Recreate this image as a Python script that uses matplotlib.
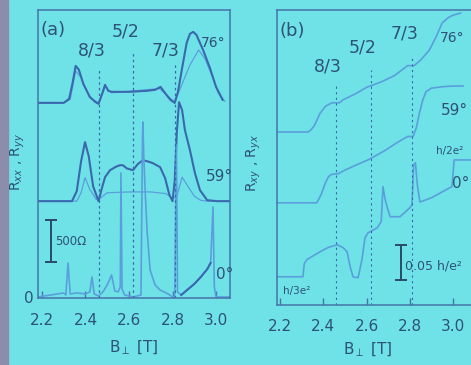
import matplotlib.pyplot as plt
from matplotlib.patches import Rectangle

# ---- panel (a): Rxx / Ryy in ohm, traces offset by tilt angle ----
b_76 = [2.182, 2.30, 2.325, 2.34, 2.355, 2.37, 2.39, 2.42, 2.445, 2.46, 2.475, 2.49, 2.505, 2.52,
        2.60, 2.68, 2.72, 2.745, 2.765, 2.79, 2.81, 2.825, 2.845, 2.865, 2.88, 2.895, 2.91, 2.94,
        2.97, 3.0, 3.03]
rxx_76 = [0, 0, 48, 226, 440, 393, 226, 71, 12, -12, 95, 214, 143, 131,
          131, 143, 155, 190, 119, 36, 0, 131, 428, 714, 821, 845, 809, 631,
          428, 190, 36]
b_76_yy = [2.182, 2.30, 2.33, 2.355, 2.38, 2.42, 2.46, 2.49, 2.52, 2.74, 2.81, 2.84, 2.88, 2.92,
           2.95, 2.98, 3.01, 3.04]
ryy_76 = [0, 0, 40, 380, 300, 60, 0, 190, 120, 170, 10, 200, 450, 630, 520, 330, 120, 20]

b_59 = [2.182, 2.338, 2.36, 2.38, 2.398, 2.415, 2.435, 2.46, 2.475, 2.49, 2.513, 2.54, 2.559,
        2.572, 2.59, 2.618, 2.64, 2.664, 2.69, 2.71, 2.743, 2.766, 2.785, 2.80, 2.81, 2.82, 2.83,
        2.844, 2.857, 2.88, 2.903, 2.926, 2.959, 3.005, 3.064]
rxx_59 = [0, 0, 119, 476, 702, 536, 179, 0, 150, 286, 369, 410, 428,
          428, 390, 369, 440, 488, 470, 452, 405, 274, 80, 0, 238, 833, 1178,
          1083, 845, 607, 333, 131, 12, 0, 0]
b_59_yy = [2.182, 2.36, 2.38, 2.398, 2.42, 2.45, 2.47, 2.50, 2.60, 2.70, 2.77, 2.80, 2.82, 2.844,
           2.87, 2.90, 2.93, 2.96, 3.064]
ryy_59 = [0, 0, 100, 280, 140, 20, 40, 100, 110, 110, 90, 30, 60, 285, 180, 60, 10, 0, 0]

b_0 = [2.182, 2.30, 2.31, 2.32, 2.33, 2.36, 2.40, 2.42, 2.43, 2.44, 2.46, 2.48, 2.50, 2.52,
       2.535, 2.55, 2.56, 2.563, 2.568, 2.58, 2.62, 2.655, 2.662, 2.664, 2.668, 2.674, 2.683,
       2.697, 2.72, 2.743, 2.78, 2.80, 2.81, 2.818, 2.823, 2.84, 2.867, 2.90, 2.93, 2.96, 2.975,
       2.986, 2.992, 3.0, 3.064]
rxx_0 = [0, 48, 24, 405, 36, 48, 36, 60, 238, 36, 12, 60, 143, 262,
         71, 60, 119, 1476, 95, 24, 0, 24, 1900, 2083, 1666, 1273, 797,
         321, 143, 83, 36, 0, 12, 1809, 60, 24, 83, 155, 238, 333, 405,
         1071, 119, 0, 0]

offset_a = {76: 2310, 59: 1140, 0: 0}
scale_a = 500  # ohm

# ---- panel (b): Rxy / Ryx in units of h/e^2 ----
b_h76 = [2.186, 2.33, 2.345, 2.36, 2.385, 2.41, 2.44, 2.475, 2.49, 2.55, 2.60, 2.67, 2.73, 2.79,
         2.82, 2.85, 2.89, 2.92, 2.95, 2.98, 3.0, 3.035]
rxy_76 = [0.3333, 0.3333, 0.337, 0.343, 0.360, 0.370, 0.375, 0.375, 0.379, 0.388, 0.397, 0.405,
          0.414, 0.428, 0.428, 0.436, 0.450, 0.468, 0.489, 0.497, 0.500, 0.503]

b_h59 = [2.186, 2.37, 2.39, 2.41, 2.425, 2.44, 2.47, 2.50, 2.55, 2.61, 2.68, 2.74, 2.79, 2.815,
         2.83, 2.845, 2.86, 2.875, 2.90, 2.95, 3.0, 3.046]
rxy_59 = [0.3333, 0.3333, 0.345, 0.362, 0.371, 0.374, 0.375, 0.380, 0.387, 0.395, 0.407, 0.419,
          0.428, 0.428, 0.44, 0.462, 0.48, 0.492, 0.497, 0.499, 0.5, 0.5]

b_h0 = [2.186, 2.306, 2.312, 2.325, 2.385, 2.422, 2.464, 2.491, 2.51, 2.524, 2.538, 2.561, 2.579,
        2.593, 2.607, 2.649, 2.668, 2.676, 2.685, 2.695, 2.709, 2.755, 2.801, 2.81, 2.818, 2.826,
        2.835, 2.847, 2.90, 2.995, 3.005, 3.083]
rxy_0 = [0.3333, 0.3333, 0.352, 0.358, 0.369, 0.375, 0.379, 0.375, 0.369, 0.348, 0.333, 0.332,
         0.358, 0.389, 0.396, 0.403, 0.412, 0.462, 0.445, 0.433, 0.419, 0.419, 0.432, 0.436,
         0.493, 0.496, 0.464, 0.440, 0.446, 0.462, 0.500, 0.500]

offset_b = {76: 0.2066, 59: 0.1055, 0: 0.0}
scale_b = 0.05  # h/e^2

# filling factors marked by dashed lines
nu_labels = ['8/3', '5/2', '7/3']
nu_field = [2.46, 2.62, 2.81]
xticks = [2.2, 2.4, 2.6, 2.8, 3.0]

bg = '#6fe2e7'
dark = '#3a68ad'
light = '#5a9fdc'
ink = '#2d5275'
frame = '#4674a8'

plt.rcParams['font.family'] = ['Liberation Sans Narrow', 'DejaVu Sans']
fig = plt.figure(figsize=(4.71, 3.65), dpi=100, facecolor=bg)
fig.patches.append(Rectangle((0, 0), 8 / 471, 1, transform=fig.transFigure,
                             color='#8c8cab', zorder=0))

ax1 = fig.add_axes([0.0807, 0.1836, 0.4076, 0.789])
ax2 = fig.add_axes([0.5881, 0.1644, 0.4119, 0.8082])

for ax, pad in ((ax1, 11), (ax2, 10)):
    ax.set_facecolor('none')
    for s in ax.spines.values():
        s.set_color(frame)
        s.set_linewidth(1.1)
    ax.set_xticks(xticks)
    ax.set_xticklabels(['%.1f' % t for t in xticks])
    ax.tick_params(axis='x', direction='in', length=5, width=1, colors=frame,
                   labelcolor=ink, labelsize=11, pad=pad)
    ax.tick_params(axis='y', length=0, labelcolor=ink, labelsize=11)

# ---- (a) ----
ax1.set_xlim(2.182, 3.064)
ax1.set_ylim(-12, 3415)
ax1.set_yticks([0])
ax1.set_yticklabels(['0'])

ax1.plot(b_76_yy, [r + offset_a[76] for r in ryy_76], color=light, lw=0.9)
ax1.plot(b_76, [r + offset_a[76] for r in rxx_76], color=dark, lw=1.5)
ax1.plot(b_59_yy, [r + offset_a[59] for r in ryy_59], color=light, lw=0.9)
ax1.plot(b_59, [r + offset_a[59] for r in rxx_59], color=dark, lw=1.5)
ax1.plot(b_0, rxx_0, color=light, lw=1.2)
# rising tail of the 0 degree trace above 7/3 is drawn heavier
ax1.plot(b_0[35:41], rxx_0[35:41], color=dark, lw=1.5)

tops_a = [2725, 2916, 2797]
for x, top in zip(nu_field, tops_a):
    ax1.plot([x, x], [-12, top], color=dark, lw=0.9, ls=(0, (2, 2.5)))
ax1.text(2.43, 2939, '8/3', color=ink, fontsize=12.5, ha='center', va='center')
ax1.text(2.586, 3165, '5/2', color=ink, fontsize=12.5, ha='center', va='center')
ax1.text(2.766, 2939, '7/3', color=ink, fontsize=12.5, ha='center', va='center')
ax1.text(2.251, 3177, '(a)', color=ink, fontsize=13, ha='center', va='center')
ax1.text(2.986, 3023, '76°', color=ink, fontsize=10, ha='center', va='center')
ax1.text(3.014, 1428, '59°', color=ink, fontsize=11, ha='center', va='center')
ax1.text(3.041, 262, '0°', color=ink, fontsize=11, ha='center', va='center')

ax1.errorbar([2.241], [416 + scale_a / 2], yerr=[scale_a / 2], color='#2b4a6a',
             lw=1.4, capsize=4, capthick=1.4)
ax1.text(2.262, 655, '500Ω', color=ink, fontsize=8.5, ha='left', va='center')

ax1.text(0.5, -0.174, r'B$_\perp$ [T]', transform=ax1.transAxes, color=ink,
         fontsize=11, ha='center', va='center')
fig.text(18 / 471, 1 - 162 / 365, r'R$_{xx}$ , R$_{yy}$', rotation=90, color=ink,
         fontsize=10, ha='center', va='center')

# ---- (b) ----
ax2.set_xlim(2.186, 3.083)
ax2.set_ylim(0.293, 0.714)
ax2.set_yticks([])
ax2.spines['right'].set_visible(False)

ax2.plot(b_h76, [r + offset_b[76] for r in rxy_76], color=light, lw=1.2)
ax2.plot(b_h59, [r + offset_b[59] for r in rxy_59], color=light, lw=1.2)
ax2.plot(b_h0, rxy_0, color=light, lw=1.2)

tops_b = [0.607, 0.628, 0.648]
for x, top in zip(nu_field, tops_b):
    ax2.plot([x, x], [0.293, top], color=dark, lw=0.8, ls=(0, (2, 3)))
ax2.text(2.422, 0.634, '8/3', color=ink, fontsize=12.5, ha='center', va='center')
ax2.text(2.584, 0.661, '5/2', color=ink, fontsize=12.5, ha='center', va='center')
ax2.text(2.778, 0.680, '7/3', color=ink, fontsize=12.5, ha='center', va='center')
ax2.text(2.255, 0.684, '(b)', color=ink, fontsize=13, ha='center', va='center')
ax2.text(2.995, 0.674, '76°', color=ink, fontsize=10, ha='center', va='center')
ax2.text(3.005, 0.571, '59°', color=ink, fontsize=11, ha='center', va='center')
ax2.text(2.986, 0.513, 'h/2e²', color=ink, fontsize=7.5, ha='center', va='center')
ax2.text(3.037, 0.466, '0°', color=ink, fontsize=11, ha='center', va='center')
ax2.text(2.279, 0.313, 'h/3e²', color=ink, fontsize=7.5, ha='center', va='center')

ax2.errorbar([2.759], [0.329 + scale_b / 2], yerr=[scale_b / 2], color='#2b4a6a',
             lw=1.4, capsize=4, capthick=1.4)
ax2.text(2.78, 0.349, '0.05 h/e²', color=ink, fontsize=9, ha='left', va='center')

ax2.text(0.47, -0.152, r'B$_\perp$ [T]', transform=ax2.transAxes, color=ink,
         fontsize=11, ha='center', va='center')
fig.text(254 / 471, 1 - 163 / 365, r'R$_{xy}$ , R$_{yx}$', rotation=90, color=ink,
         fontsize=10, ha='center', va='center')

fig.savefig('out.png', dpi=100, facecolor=bg)
